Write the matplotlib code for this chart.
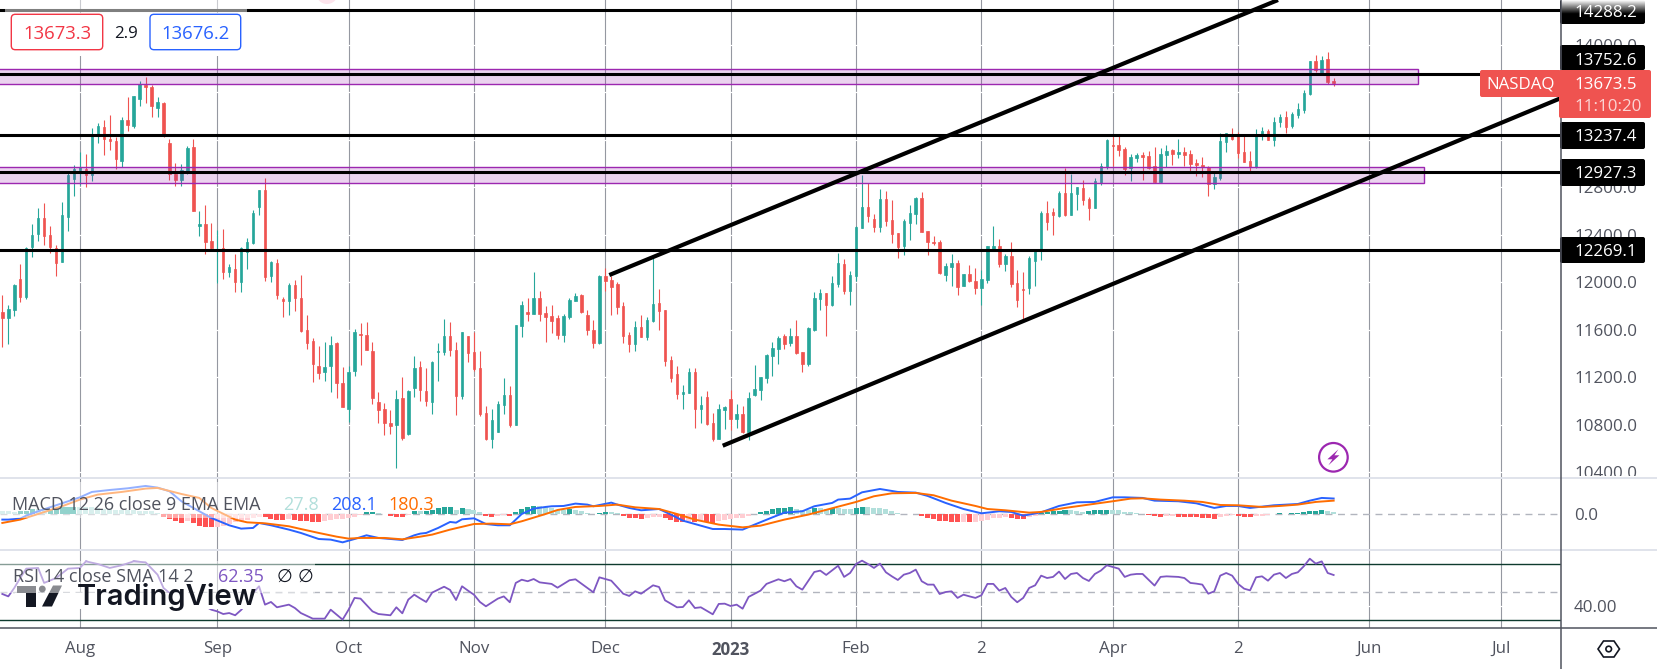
import matplotlib
matplotlib.use("Agg")
import numpy as np
import matplotlib.pyplot as plt
from matplotlib.patches import Rectangle, FancyBboxPatch, Circle, Polygon

plt.rcParams['font.family'] = ['Open Sans', 'DejaVu Sans']

opens = [11748,11703,11767,12028,11879,12297,12407,12541,12398,12289,
12174,12552,12869,12945,12953,12903,13231,13307,13206,13189,
13021,13366,13315,13542,13660,13643,13467,13509,13172,12911,
12861,12928,13138,12474,12491,12348,12264,12289,12087,12112,
12003,12255,12331,12634,12777,12053,12163,11860,11843,11978,
11868,11599,11507,11296,11246,11296,11490,11153,10934,11254,
11565,11557,11422,10993,10934,10817,10800,11027,10724,11111,
11287,11085,10993,11414,11414,11548,11430,11043,11548,11414,
11279,10900,10682,10741,10968,11052,10799,11632,11750,11733,
11868,11742,11716,11700,11557,11708,11843,11893,11725,11599,
11489,12053,12019,11986,11800,11557,11481,11624,11540,11674,
11826,11767,11346,11228,11060,11069,11245,10934,11035,10816,
10682,10926,11018,10850,10892,10741,11052,11094,11195,11380,
11439,11548,11489,11548,11414,11313,11599,11860,11911,11810,
11986,12155,11928,12054,12458,12634,12533,12466,12701,12525,
12415,12306,12500,12575,12710,12432,12340,12340,12062,12129,
12163,11970,12071,12012,11953,12020,12272,12306,12155,12222,
11995,11944,11953,12180,12272,12584,12592,12558,12752,12567,
12744,12794,12701,12626,12836,12971,13156,13156,13122,12962,
13046,13072,13063,12979,12844,13072,13114,13080,13097,13080,
13004,12987,12971,12828,12878,13180,13239,13231,13096,13021,
12970,13239,13273,13197,13349,13391,13315,13408,13450,13584,
13862,13753,13879,13694]

closes = [11703,11776,11978,11879,12292,12398,12541,12393,12297,12163,
12566,12903,12953,12970,12903,13239,13315,13206,13189,13037,
13366,13323,13567,13668,13643,13483,13517,13239,12911,12861,
12945,13130,12600,12491,12339,12289,12280,12087,12129,12003,
12289,12339,12583,12777,12045,12171,11893,11843,11978,11868,
11591,11490,11313,11237,11288,11473,11153,10951,11246,11582,
11557,11431,11027,10926,10817,10792,11019,10691,11086,11279,
11094,11001,11329,11422,11548,11430,11043,11582,11405,11271,
10892,10682,10842,10976,11052,10799,11641,11809,11733,11868,
11733,11708,11674,11557,11716,11851,11885,11750,11599,11489,
12053,12011,11960,11792,11548,11481,11624,11540,11683,11817,
11758,11338,11195,11060,11077,11245,10934,10968,10808,10682,
10934,10951,10850,10892,10741,11027,11102,11203,11388,11447,
11531,11481,11548,11405,11313,11615,11868,11911,11810,11995,
12163,11928,12062,12466,12634,12558,12466,12701,12516,12407,
12298,12516,12584,12710,12424,12340,12331,12079,12138,12163,
11961,12071,12012,11953,12028,12306,12306,12155,12222,11986,
11852,11936,12205,12264,12584,12508,12567,12752,12567,12752,
12802,12693,12626,12853,12979,13198,13147,13114,12954,13055,
13072,13055,12962,12844,13080,13105,13080,13097,13072,12996,
12987,12971,12828,12887,13189,13253,13206,13088,13012,12970,
13248,13273,13197,13349,13391,13307,13416,13458,13593,13862,
13786,13870,13685,13673.5]

highs = [11893,11809,11986,12154,12294,12491,12622,12667,12474,12314,
12676,12925,12987,13096,13080,13295,13338,13366,13408,13225,
13388,13559,13567,13694,13727,13660,13559,13514,13203,13004,
12995,13147,13206,12600,12651,12499,12440,12449,12154,12238,
12297,12373,12608,12777,12878,12179,12196,11877,11994,12020,
12062,11725,11532,11464,11498,11549,11498,11288,11296,11607,
11655,11666,11498,11077,10985,10926,11094,11204,11094,11380,
11338,11279,11338,11489,11691,11666,11498,11582,11548,11582,
11422,10959,10934,11001,11195,11128,11641,11843,11868,12086,
11927,11800,11809,11725,11733,11868,11910,11901,11767,11683,
12061,12120,12053,12002,11834,11582,11674,11725,11708,12204,
11943,11767,11380,11296,11136,11279,11279,11043,11085,10900,
10976,10959,11094,10976,10959,11077,11304,11203,11397,11498,
11548,11565,11615,11683,11414,11624,11918,11944,11911,12054,
12247,12197,12096,12474,12903,12836,12575,12786,12769,12693,
12415,12533,12651,12718,12760,12432,12390,12357,12163,12239,
12188,12071,12146,12121,12104,12306,12474,12365,12239,12340,
12104,12087,12222,12272,12601,12685,12626,12769,12962,12912,
12802,12861,12718,12878,13004,13206,13248,13240,13139,13080,
13086,13097,13105,13139,13130,13156,13122,13206,13139,13114,
13038,13055,12979,12937,13257,13253,13295,13265,13239,13105,
13290,13307,13290,13391,13416,13441,13433,13509,13618,13862,
13912,13904,13938,13719]

lows = [11459,11481,11720,11837,11860,12216,12351,12314,12250,12053,
12174,12435,12729,12819,12805,12852,13175,13071,13113,12953,
12967,13273,13298,13483,13509,13391,13391,13223,12861,12813,
12810,12911,12600,12390,12238,12264,11992,12028,12045,11919,
11919,12112,12322,12566,12011,12003,11860,11708,11725,11759,
11582,11439,11162,11187,11170,11077,11027,10951,10825,11212,
11305,11431,10977,10817,10716,10724,10438,10674,10716,11035,
11001,10959,10892,11170,11388,11380,10884,11018,11329,11254,
10875,10673,10606,10741,10892,10783,10799,11540,11674,11733,
11674,11498,11573,11523,11498,11691,11843,11742,11557,11447,
11481,11927,11725,11733,11489,11414,11422,11540,11514,11666,
11599,11296,11161,11018,10934,11069,10774,10816,10799,10665,
10682,10766,10757,10774,10732,10673,11043,11010,11153,11212,
11313,11439,11464,11397,11245,11296,11590,11768,11551,11801,
11961,11902,11810,12012,12458,12508,12424,12424,12474,12331,
12205,12230,12357,12491,12424,12230,12314,12071,12012,11970,
11894,11970,12003,11902,11810,11995,12264,12129,12096,11961,
11793,11677,11902,11970,12188,12441,12399,12550,12558,12567,
12609,12651,12525,12626,12819,12954,12979,13063,12903,12853,
13013,12861,12954,12836,12836,12971,12987,13046,12979,12937,
12895,12887,12727,12786,12861,13096,13197,13046,13012,12937,
12965,13197,13197,13147,13307,13256,13298,13382,13424,13576,
13769,13753,13668,13652]

macd_hist = [40,40,35,40,48,66,66,66,70,84,
92,97,101,101,97,97,84,75,70,62,
57,53,53,48,44,40,22,-31,-57,-92,
-110,-92,-114,-158,-167,-172,-167,-158,-123,-106,
-84,-70,-48,-31,-40,-57,-70,-70,-57,-75,
-84,-92,-97,-97,-84,-70,-66,-62,-48,-31,
-4,26,31,18,2,-18,-31,-35,-9,40,
40,48,62,79,92,97,62,79,75,62,
31,-22,-35,-18,-9,-26,31,70,97,110,
106,92,88,62,53,75,62,44,18,4,
22,35,31,18,-22,-48,-53,-57,-48,-35,
-31,-48,-75,-106,-106,-101,-106,-92,-101,-110,
-88,-79,-57,-53,-48,-22,4,31,44,66,
84,88,92,70,57,53,84,79,75,88,
84,75,70,84,97,92,84,79,70,48,
22,9,4,4,-22,-48,-62,-88,-92,-101,
-106,-101,-101,-97,-92,-70,-48,-44,-31,-48,
-57,-62,-40,-18,18,26,40,48,62,57,
48,31,44,53,57,62,62,53,31,26,
13,4,-4,-26,-31,-26,-22,-35,-40,-40,
-40,-44,-48,-57,-35,-22,-13,-18,-31,-35,
-22,-18,-13,4,18,4,18,22,26,44,
48,57,44,28]

macd_idx = [0,1,3,4,6,9,13,15,18,21,24,26,28,30,33,35,38,40,42,43,45,48,50,53,55,57,59,61,63,67,69,70,71,73,75,76,77,79,81,83,85,87,89,91,92,94,96,98,99,102,103,105,107,110,112,114,116,119,121,124,126,129,131,134,136,139,140,142,144,147,150,153,155,158,161,164,167,169,171,174,177,180,183,186,188,191,193,197,200,203,205,207,209,211,213,217,219,221,223]
macd_line = [-70,-70,-57,-18,40,119,224,295,321,343,374,352,304,172,40,-48,-145,-189,-180,-114,-145,-202,-246,-326,-334,-370,-326,-277,-312,-339,-277,-255,-246,-180,-101,-110,-66,-53,-128,-145,-145,4,75,97,106,110,141,128,106,154,128,84,53,70,-4,-84,-128,-194,-194,-202,-136,-40,22,40,106,150,194,207,290,334,295,286,242,150,70,13,40,31,-18,26,110,158,163,224,224,216,180,172,145,84,110,110,84,101,119,136,180,216,208.1]

signal_idx = [0,3,6,10,13,16,20,24,26,30,33,35,39,41,44,48,50,53,56,58,60,64,67,70,72,75,79,82,85,87,91,93,96,100,103,106,110,113,116,120,124,127,131,135,140,143,146,149,153,156,159,163,165,168,172,174,178,182,186,189,191,194,198,201,204,207,211,214,217,220,223]
signal_line = [-114,-70,4,106,194,260,295,339,348,268,216,84,-70,-106,-119,-158,-194,-246,-295,-321,-312,-312,-330,-295,-268,-202,-128,-123,-132,-92,4,57,97,110,128,92,70,4,-70,-136,-172,-150,-70,-4,101,163,238,277,282,251,180,110,70,53,22,31,84,128,172,207,211,194,180,163,123,119,97,110,128,163,180.3]

rsi_idx = [0,1,2,3,4,6,7,9,11,13,14,16,18,20,22,24,26,27,28,29,32,33,34,35,36,37,38,39,40,41,42,43,44,45,46,48,49,50,52,54,55,57,58,59,60,62,63,65,66,67,68,69,70,71,72,74,75,76,77,78,79,80,81,83,84,85,86,87,88,89,90,92,93,95,96,99,100,102,104,105,106,107,109,110,111,113,114,115,116,117,119,120,121,122,123,124,125,127,128,130,131,132,133,134,136,137,138,140]+list(range(141,224))
rsi_val = [48.8,47.1,53.1,60.2,66.9,67.4,56.7,60.2,66.9,67.4,72.1,70.2,67.4,69.3,72.1,71.4,62.6,53.1,49.5,46,43.1,41.2,40,37.6,36.4,34.5,35.2,33.6,37.4,42.4,49.5,54.3,41.2,43.1,39.3,41.2,38.8,35.2,31.2,31.2,37.6,30.5,37.6,46,45.5,36.4,34.5,33.6,39.3,35,44.8,48.3,45.6,43.1,49.8,54,51.7,44.5,54.3,51.2,48.3,43.1,40,45.5,47.1,42.9,56.7,59,57.9,59.5,57.1,56,53.3,58.6,59.3,50,60.7,58.3,49,47.4,50.7,49,55,53.8,44.3,39.3,39.5,44.3,38.8,39.3,34.3,41.7,41.9,40.2,41.2,38.3,46.7,51.2,56,59.3,57.9,59.5,54.3,51.9,64.5,65.5,62.4,69,
61,63.8,70.2,72.6,70.2,67.4,70.5,64.3,61.4,58.8,62.6,63.8,66.2,57.9,55.5,55.5,48.8,50.2,50.7,46,48.3,47.1,46,47.9,56,56,51.2,53.1,46.7,42.9,46,53.1,55,61.9,60.2,61,64.8,59.5,63.1,63.8,60.2,58.1,63.1,65.5,69.3,68.1,66.9,61,62.6,63.1,63.1,59,54.8,61,61.4,61.2,61,60.2,56.7,56.2,55.5,49,50.7,61.9,63.8,61.9,56,52.6,51.4,60.7,61.4,58.3,62.6,63.8,60.2,63.1,64.3,68.6,74,70.5,72.1,63.8,62.35]

levels = [14288.2, 13752.6, 13237.4, 12927.3, 12269.1]
zones = [(13666, 13792, 237.05), (12833, 12967, 238.07)]
channel_upper = [(101.67, 12061), (213.68, 14375)]
channel_lower = [(120.67, 10625), (261.08, 13550)]
price_ticks = list(range(10400, 14001, 400))
hidden_tick_labels = [13200, 13600]
month_idx = [13, 36, 58, 79, 101, 122, 143, 164, 186, 207, 229, 251]
month_lbl = ['Aug', 'Sep', 'Oct', 'Nov', 'Dec', '2023', 'Feb', '2', 'Apr', '2', 'Jun', 'Jul']

GREEN, RED = '#26A69A', '#EF5350'
GREY = '#50535E'
W, H = 1658, 669
AXR = 1561
def pane(top, bottom):
    return [0, (H - bottom) / H, AXR / W, (bottom - top) / H]

fig = plt.figure(figsize=(W / 100, H / 100), dpi=100, facecolor='white')
ax = fig.add_axes(pane(0, 478.3))
ax_m = fig.add_axes(pane(478.3, 550.3), sharex=ax)
ax_r = fig.add_axes(pane(550.3, 628.3), sharex=ax)

for a in (ax, ax_m, ax_r):
    for s in a.spines.values():
        s.set_visible(False)
    a.set_xticks(month_idx)
    a.set_axisbelow(True)
    a.grid(axis='x', color='#9598A1', lw=0.8)
    a.yaxis.tick_right()
    a.tick_params(axis='y', length=0, pad=9.4, labelsize=12.2, labelcolor=GREY)
    a.tick_params(axis='x', length=0, labelbottom=False)

# candles
idx = np.arange(len(opens))
o, c, hi, lo = map(np.array, (opens, closes, highs, lows))
col = [GREEN if cc >= oo else RED for oo, cc in zip(o, c)]
ax.vlines(idx, lo, hi, colors=col, lw=0.8, zorder=2)
ax.bar(idx, np.abs(c - o), bottom=np.minimum(o, c), width=0.42, color=col, edgecolor=col, lw=0.5, zorder=2.1)

# main grid / axis
ax.set_yticks(price_ticks)
ax.set_yticklabels(['' if t in hidden_tick_labels else f'{t:.1f}' for t in price_ticks])
ax.grid(axis='y', color='white', lw=0.9)

# zones, levels, channels
for z0, z1, zr in zones:
    ax.add_patch(Rectangle((-5, z0), zr + 5, z1 - z0, facecolor=(0.612, 0.153, 0.69, 0.2),
                           edgecolor='#9C27B0', lw=1.0, zorder=3))
for lv in levels:
    ax.axhline(lv, color='black', lw=2.2, zorder=4)
for seg in (channel_upper, channel_lower):
    ax.plot(*zip(*seg), color='black', lw=3.0, zorder=4, solid_capstyle='butt')

# MACD
hist = np.array(macd_hist, float)
hcol = []
for k, v in enumerate(hist):
    prev = hist[k - 1] if k else v
    if v >= 0:
        hcol.append('#26A69A' if prev < v else '#B2DFDB')
    else:
        hcol.append('#FFCDD2' if prev < v else '#FF5252')
ax_m.bar(idx, hist, width=0.84, color=hcol, zorder=2)
ax_m.axhline(0, color='#B2B5BE', lw=1, dashes=(5, 4), zorder=1)
ax_m.plot(macd_idx, macd_line, color='#2962FF', lw=1.4, zorder=3)
ax_m.plot(signal_idx, signal_line, color='#FF6D00', lw=1.4, zorder=3)
ax_m.set_yticks([0])
ax_m.set_yticklabels(['0.0'])

# RSI
ax_r.set_yticks([40])
ax_r.set_yticklabels(['40.00'])
ax_r.grid(axis='y', color='white', lw=0.9)
ax_r.axhline(70, color='#0E3B2E', lw=1.0, zorder=1)
ax_r.axhline(30, color='#0E3B2E', lw=1.0, zorder=1)
ax_r.axhline(50, color='#B2B5BE', lw=1, dashes=(5, 4), zorder=1)
ax_r.plot(rsi_idx, rsi_val, color='#7E57C2', lw=1.3, zorder=3)
ax_r.tick_params(axis='x', labelbottom=True, labelsize=12.2, labelcolor=GREY, pad=9)
ax_r.set_xticklabels(month_lbl)
for t in ax_r.get_xticklabels():
    if t.get_text() == '2023':
        t.set_fontweight('bold')

# set limits last: set_xticks / set_yticks can widen the view
ax.set_xlim(-0.39, 261.08)
ax.set_ylim(10351, 14375)
ax_m.set_ylim(-475, 475)
ax_r.set_ylim(24.3, 80)

# overlay (chart furniture drawn in pixels)
ov = fig.add_axes([0, 0, 1, 1], zorder=10, facecolor='none')
ov.set_xlim(0, W)
ov.set_ylim(H, 0)
ov.axis('off')
def rect(x0, y0, x1, y1, **kw):
    ov.add_patch(Rectangle((x0, y0), x1 - x0, y1 - y0, lw=0, **kw))
def label(txt, x, y, **kw):
    kw.setdefault('va', 'center')
    kw.setdefault('fontsize', 12.2)
    ov.text(x, y + 2, txt, **kw)

# separators and axis lines
rect(AXR, 476, W, 669, color='white')
rect(0, 477.3, W, 479.3, color='#E0E3EB')
rect(0, 549.3, W, 551.3, color='#E0E3EB')
ov.plot([0, W], [628.3, 628.3], color=GREY, lw=1.1)
ov.plot([AXR, AXR], [0, H], color=GREY, lw=1.1)
label('0.0', 1574, 514.3, color=GREY)
label('40.00', 1574, 606.3, color=GREY)

# top-left price boxes
ov.add_patch(Circle((327, -7), 11, color='#FCE4EC', lw=0))
rect(5, 0, 247, 13, color='white', alpha=0.5)
rect(5, 13, 247, 56, color='white')
for x0, x1, colr, txt in ((11.3, 102.7, '#F23645', '13673.3'), (150, 240.7, '#2962FF', '13676.2')):
    ov.add_patch(FancyBboxPatch((x0 + 3, 17.3), x1 - x0 - 6, 29.4, boxstyle='round,pad=3,rounding_size=4',
                                fc='white', ec=colr, lw=1))
    label(txt, (x0 + x1) / 2, 32, color=colr, ha='center', fontsize=13.3)
label('2.9', 126, 32, color='#131722', ha='center', fontsize=12.2)

# level tags
gy = np.linspace(0, 1, 30).reshape(-1, 1)
tags = [(0, 24), (45, 70), (122, 149), (159, 186), (237, 263)]
centres = [11, 59, 135, 172, 250]
for (y0, y1), cy, lv in zip(tags, centres, levels):
    ov.add_patch(FancyBboxPatch((AXR + 1, y0 + 2), 1642 - AXR, y1 - y0 - 4, boxstyle='round,pad=2,rounding_size=2',
                                fc='black', ec='none'))
grad = np.ones((30, 1, 4))
grad[..., 3] = (1 - gy) ** 1.0
ov.imshow(grad, extent=(AXR + 0.5, 1647, 14, 0), aspect='auto', zorder=1.5, interpolation='bilinear')
ov.set_xlim(0, W)
ov.set_ylim(H, 0)
for cy, lv in zip(centres, levels):
    label(f'{lv:.1f}', 1574, cy, color='white', zorder=3)

# current price tags
ov.add_patch(FancyBboxPatch((AXR, 72), 1649 - AXR, 44, boxstyle='round,pad=2,rounding_size=2', fc=RED, ec='none', zorder=2))
ov.add_patch(FancyBboxPatch((1482, 72), 77, 23, boxstyle='round,pad=2,rounding_size=2', fc=RED, ec='none', zorder=2))
label('NASDAQ', 1520.6, 82.7, color='white', ha='center', zorder=3)
label('13673.5', 1574, 83, color='white', zorder=3)
label('11:10:20', 1574, 105, color='#FBD5D4', zorder=3)

# lightning icon
ov.add_patch(Circle((1333.4, 457.3), 14.3, fc='white', ec='#9C27B0', lw=1.6))
bx, by = 1333.4, 457.3
ov.add_patch(Polygon([(bx + 5, by - 8), (bx - 6, by + 2), (bx - 1, by + 2), (bx - 5, by + 8),
                      (bx + 6, by - 2), (bx + 1, by - 2)], closed=True, fc='#9C27B0', ec='none'))

# settings icon
ov.add_patch(Polygon([(1598, 649), (1603.5, 641), (1614, 641), (1619.5, 649), (1614, 657), (1603.5, 657)],
                     closed=True, fc='white', ec='#131722', lw=1.2))
ov.add_patch(Circle((1608.7, 649), 2.8, fc='white', ec='#131722', lw=1.2))

# TradingView watermark
DARK = '#131722'
rect(15, 593, 257, 609, color='white')
rect(17.5, 585.5, 36, 593, color=DARK)
rect(26, 593, 36, 606.5, color=DARK)
ov.add_patch(Circle((42.3, 589), 3.4, color=DARK, lw=0))
ov.add_patch(Polygon([(53, 585.5), (62, 585.5), (52, 606.5), (42, 606.5)], closed=True, color=DARK, lw=0))
ov.text(77, 597, 'TradingView', color=DARK, fontsize=21, fontfamily='Inter', fontweight='semibold', va='center')

# legends with a translucent backing
rect(0, 482, 263, 518, color='white', alpha=0.5)
rect(0, 561, 315, 593, color='white', alpha=0.5)
label('MACD 12 26 close 9 EMA EMA', 12.3, 503, color=GREY, fontsize=13)
label('27.8', 283.3, 503, color='#B2DFDB', fontsize=13)
label('208.1', 331, 503, color='#2962FF', fontsize=13)
label('180.3', 388, 503, color='#FF6D00', fontsize=13)
label('RSI 14 close SMA 14 2', 12.7, 575, color=GREY, fontsize=13)
label('62.35', 218, 575, color='#7E57C2', fontsize=13)
label('\u2205', 276.7, 575, color=DARK, fontsize=13)
label('\u2205', 297.7, 575, color=DARK, fontsize=13)

fig.savefig('out.png', dpi=100)
